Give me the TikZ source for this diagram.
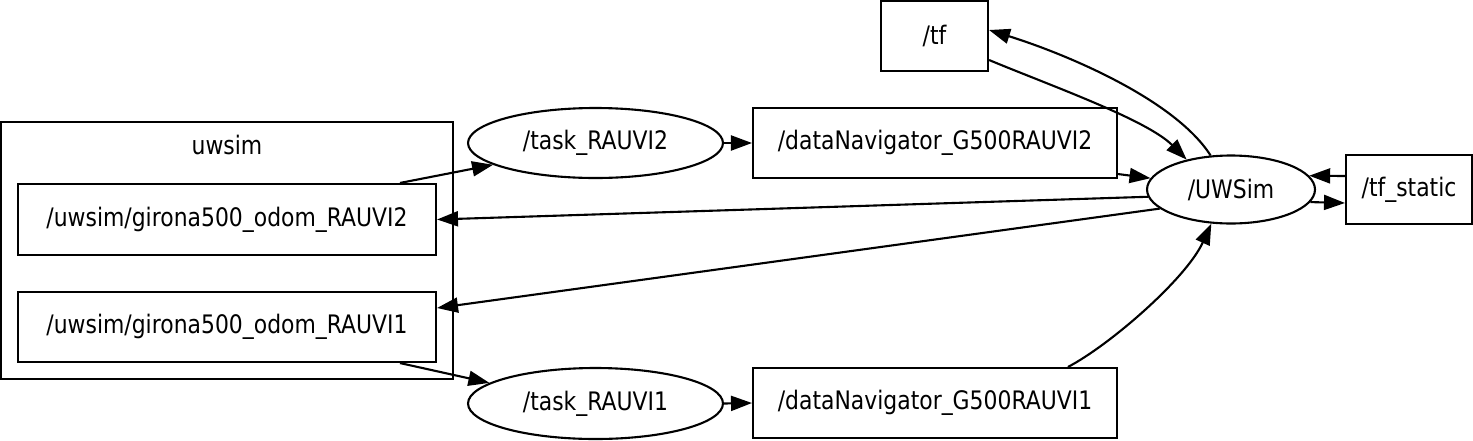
\documentclass[tikz,border=0pt]{standalone}
\usepackage{fontspec}
\setmainfont{DejaVu Sans}[FakeStretch=0.86]
\usetikzlibrary{shapes.geometric,arrows.meta}
\begin{document}
\begin{tikzpicture}[x=0.02cm,y=-0.02cm, line width=1.2pt,
  every node/.style={font=\fontsize{14.5}{17}\selectfont, inner sep=0pt},
  box/.style={draw, rectangle},
  oval/.style={draw, ellipse},
  link/.style={-{Triangle[length=0.42cm,width=0.3cm]}},
]
\useasboundingbox (0,0) rectangle (1473,440);

% cluster
\node[box, minimum width=9.04cm, minimum height=5.14cm] (cl) at (227,250.5) {};
\node (cllabel) at (227,145) {uwsim};

% nodes
\node[box, minimum width=8.36cm, minimum height=1.42cm] (r2) at (227,219.5) {/uwsim/girona500\_odom\_RAUVI2};
\node[box, minimum width=8.36cm, minimum height=1.40cm] (r1) at (227,327) {/uwsim/girona500\_odom\_RAUVI1};
\node[oval, minimum width=5.1cm, minimum height=1.4cm] (t2) at (595.5,143) {/task\_RAUVI2};
\node[oval, minimum width=5.1cm, minimum height=1.42cm] (t1) at (595.5,403.5) {/task\_RAUVI1};
\node[box, minimum width=7.28cm, minimum height=1.4cm] (d2) at (935,143) {/dataNavigator\_G500RAUVI2};
\node[box, minimum width=7.28cm, minimum height=1.4cm] (d1) at (935,403) {/dataNavigator\_G500RAUVI1};
\node[box, minimum width=2.14cm, minimum height=1.4cm] (tf) at (934.5,36) {/tf};
\node[oval, minimum width=3.36cm, minimum height=1.36cm] (u) at (1231,189.5) {/UWSim};
\node[box, minimum width=2.52cm, minimum height=1.38cm] (ts) at (1409,189.5) {/tf\_static};

% edges
\draw[link] ([xshift=3.46cm]r2.north) -- (t2.192);
\draw[link] (t2.east) -- (d2.west);
\draw[link] ([yshift=0.1cm]d2.south east) -- (u.172);
\draw[link] (u.185) -- (r2.east);
\draw[link] (u.195) -- ([yshift=0.38cm]r1.east);
\draw[link] ([xshift=3.46cm]r1.south) -- (t1.169);
\draw[link] (t1.east) -- (d1.west);
\draw[link] ([xshift=2.66cm]d1.north) .. controls +(42,-22) and +(-25,55) .. (u.240);
\draw[link] ([yshift=-0.48cm]tf.east) .. controls +(60,25) and +(-40,-40) .. (u.146);
\draw[link] (u.121) .. controls +(-35,-55) and +(80,25) .. ([yshift=0.12cm]tf.east);
\draw[link] ([yshift=0.27cm]ts.west) -- (u.10);
\draw[link] (u.351) -- ([yshift=-0.27cm]ts.west);
\end{tikzpicture}
\end{document}
